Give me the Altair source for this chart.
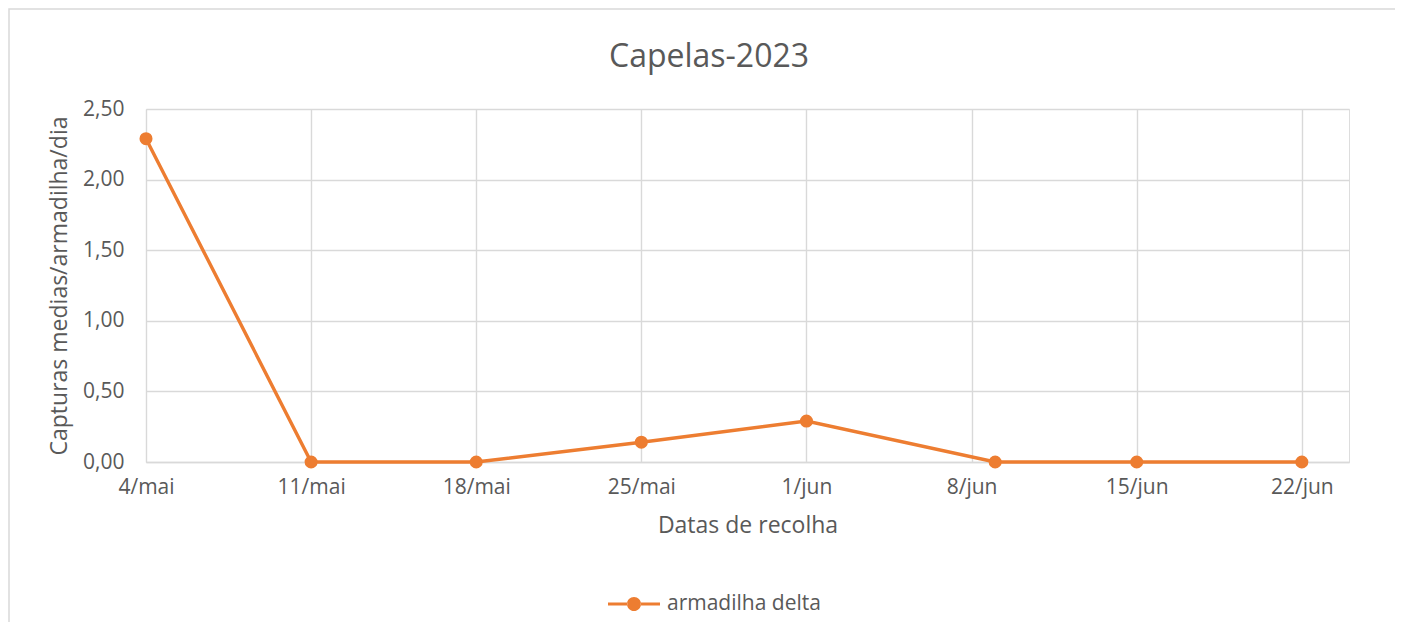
import altair as alt
import pandas as pd

# ---- data ----
dates = ["2023-05-04", "2023-05-11", "2023-05-18", "2023-05-25",
         "2023-06-01", "2023-06-09", "2023-06-15", "2023-06-22"]
values = [2.29, 0.00, 0.00, 0.14, 0.29, 0.00, 0.00, 0.00]
series_name = "armadilha delta"

tick_dates = ["2023-05-04", "2023-05-11", "2023-05-18", "2023-05-25",
              "2023-06-01", "2023-06-08", "2023-06-15", "2023-06-22"]
tick_labels = ["4/mai", "11/mai", "18/mai", "25/mai",
               "1/jun", "8/jun", "15/jun", "22/jun"]
x_domain = ["2023-05-04", "2023-06-24"]
y_ticks = [0.0, 0.5, 1.0, 1.5, 2.0, 2.5]

title_text = "Capelas-2023"
x_title = "Datas de recolha"
y_title = "Capturas medias/armadilha/dia"

ORANGE = "#ED7D31"
TEXT = "#595959"
GRID = "#D9D9D9"
FONT = "Open Sans"


def ms(d):
    return int(pd.Timestamp(d, tz="UTC").value // 10**6)


df = pd.DataFrame({"t": [ms(d) for d in dates], "v": values,
                   "serie": [series_name] * len(dates)})

tick_ms = [ms(d) for d in tick_dates]
label_expr = ("[" + ",".join("'%s'" % l for l in tick_labels) + "][indexof(["
              + ",".join("'%s'" % d for d in tick_dates)
              + "], utcFormat(datum.value, '%Y-%m-%d'))]")

x_enc = alt.X(
    "t:T",
    scale=alt.Scale(type="utc", domain=[ms(x_domain[0]), ms(x_domain[1])]),
    axis=alt.Axis(values=tick_ms, labelExpr=label_expr, title=x_title,
                  grid=True, gridColor=GRID, gridWidth=1.4, ticks=False,
                  domain=True, domainColor=GRID, domainWidth=1.6,
                  labelPadding=14, titlePadding=17, labelFontSize=21,
                  titleFontSize=23, labelColor=TEXT, titleColor=TEXT,
                  labelFont=FONT, titleFont=FONT, titleFontWeight="normal",
                  labelFlush=False, labelOverlap=False),
)
y_enc = alt.Y(
    "v:Q",
    scale=alt.Scale(domain=[0, 2.5], nice=False, zero=True),
    axis=alt.Axis(values=y_ticks,
                  labelExpr="replace(format(datum.value, '.2f'), '.', ',')",
                  title=y_title, grid=True, gridColor=GRID, gridWidth=1.4,
                  ticks=False, domain=False, labelPadding=22, titlePadding=11,
                  labelFontSize=21, titleFontSize=23, labelColor=TEXT,
                  titleColor=TEXT, labelFont=FONT, titleFont=FONT,
                  titleFontWeight="normal", labelOverlap=False),
)

color_scale = alt.Scale(domain=[series_name], range=[ORANGE])

legend_path = ("M-1,-0.058L-0.26,-0.058L-0.26,0.058L-1,0.058Z"
               "M-0.27,0A0.27,0.27 0 1,0 0.27,0A0.27,0.27 0 1,0 -0.27,0Z"
               "M0.26,-0.058L1,-0.058L1,0.058L0.26,0.058Z")

base = alt.Chart(df)

line = base.mark_line(strokeWidth=3.4, color=ORANGE).encode(x=x_enc, y=y_enc)

points = base.mark_point(filled=True, size=170, opacity=1).encode(
    x=x_enc, y=y_enc,
    color=alt.Color(
        "serie:N", scale=color_scale,
        legend=alt.Legend(title=None, orient="none", legendX=462, legendY=469,
                          symbolType=legend_path, symbolSize=2704,
                          symbolStrokeWidth=0, labelFontSize=21,
                          labelColor=TEXT, labelFont=FONT, labelOffset=7,
                          padding=0),
    ),
)

first = alt.Chart(df).transform_filter("datum.t == %d" % ms(dates[0]))

border = first.mark_rect(fill="transparent", stroke=GRID,
                         strokeWidth=1.5).encode(
    x=alt.value(-137), x2=alt.value(1400), y=alt.value(-100), y2=alt.value(600)
)

title = first.mark_text(text=title_text, fontSize=32, color=TEXT, font=FONT,
                        align="center", baseline="alphabetic").encode(
    x=alt.value(563), y=alt.value(-42)
)

chart = alt.layer(border, title, line, points).properties(
    width=1203, height=353,
    padding={"left": 138, "top": 101, "right": 46, "bottom": 160},
    autosize=alt.AutoSizeParams(type="none"),
).configure_view(stroke=None).configure(background="white")

chart.save("out.html", embed_options={"renderer": "svg", "actions": False})
